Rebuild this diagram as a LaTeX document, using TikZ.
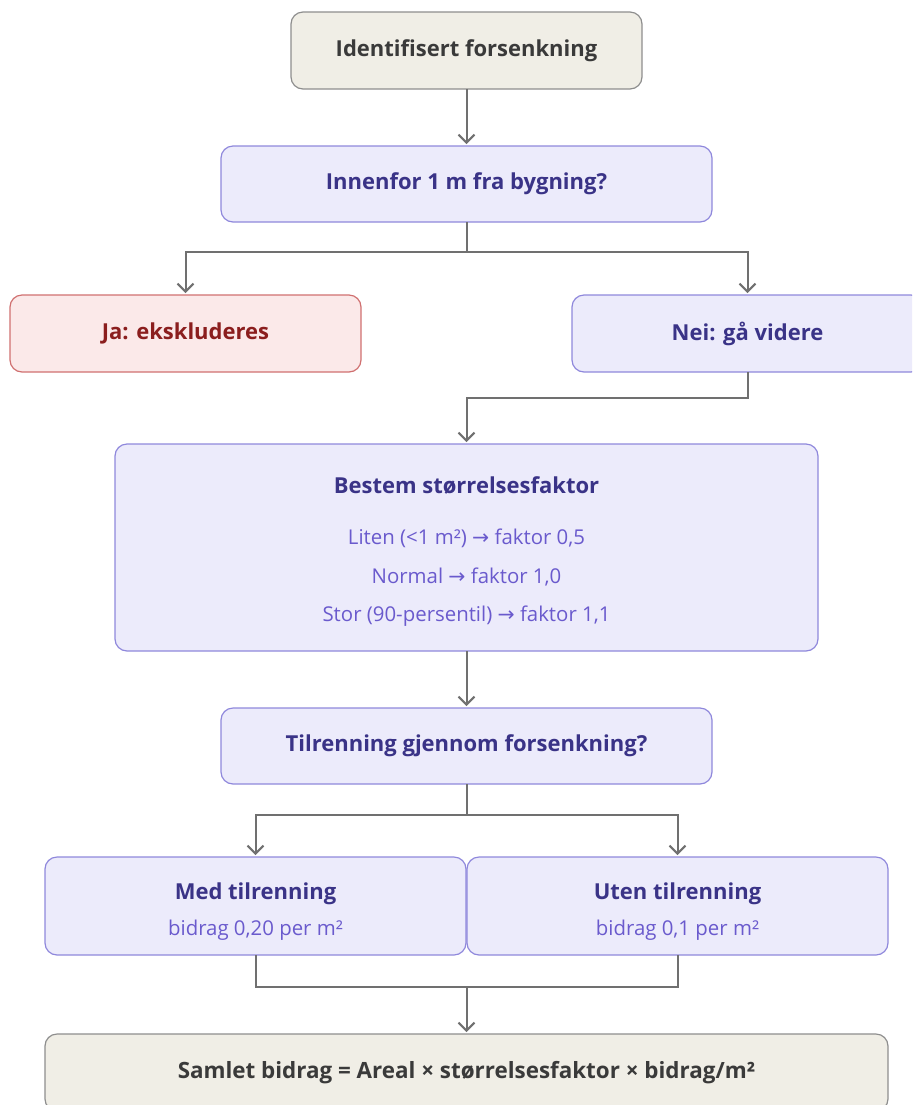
\documentclass[tikz,border=0pt]{standalone}
\usepackage{fontspec}
\setmainfont{Open Sans}
\newfontfamily\arrowfont{DejaVu Sans}
\usepackage{tikz}
\usetikzlibrary{arrows.meta,positioning}
\definecolor{efill}{HTML}{F0EEE6}
\definecolor{eline}{HTML}{8E8E8E}
\definecolor{etext}{HTML}{3A3A3A}
\definecolor{qfill}{HTML}{ECEBFB}
\definecolor{qline}{HTML}{8F88DC}
\definecolor{qtext}{HTML}{3A3387}
\definecolor{qsub}{HTML}{6A5ACD}
\definecolor{rfill}{HTML}{FBE9E9}
\definecolor{rline}{HTML}{D07070}
\definecolor{rtext}{HTML}{8B1E1E}
\definecolor{lgray}{HTML}{707070}
\tikzstyle{block} = [rectangle, draw=qline, fill=qfill, text=qtext, line width=0.6pt,
    font=\bfseries\fontsize{11}{13}\selectfont, align=center, inner sep=0pt, outer sep=0pt,
    rounded corners=6pt, minimum width=245.5pt, minimum height=38pt]
\tikzstyle{endblock} = [block, draw=eline, fill=efill, text=etext, minimum width=175.5pt, minimum height=38.5pt]
\tikzstyle{stopblock} = [endblock, draw=rline, fill=rfill, text=rtext]
\tikzstyle{line} = [draw, lgray, line width=1pt, -{Straight Barb[length=4pt,width=8pt]}, shorten >=1pt]
\newcommand{\rarr}{{\arrowfont\mdseries →}}
\newcommand{\subtxt}[1]{{\mdseries\color{qsub}\fontsize{10.2}{12}\selectfont #1}}

\begin{document}
\begin{tikzpicture}[node distance=28.5pt]
    \useasboundingbox (0,0) rectangle (456pt,-552.5pt);
    \clip (0,0) rectangle (456pt,-552.5pt);
    % Place nodes
    \node [endblock] (ident) at (233.25pt,-25.25pt) {Identifisert forsenkning};
    \node [block, below=of ident] (near) {Innenfor 1 m fra bygning?};
    \node [stopblock, below=36.5pt of near, xshift=-140.5pt] (yes) {Ja: ekskluderes};
    \node [block, minimum width=175.5pt, minimum height=38.5pt, below=36.5pt of near, xshift=140.5pt] (no) {Nei: gå videre};
    \node [block, minimum width=351.5pt, minimum height=103.5pt, below=36pt of no, xshift=-140.5pt] (size) {
    \rule{0pt}{12.5pt}Bestem størrelsesfaktor\\[12.5pt]
    \subtxt{Liten (<1 m²) \rarr{} faktor 0,5}\\[6.2pt]
    \subtxt{Normal \rarr{} faktor 1,0}\\[6.2pt]
    \subtxt{Stor (90-persentil) \rarr{} faktor 1,1}
    };
    \node [block, below=of size] (runoff) {Tilrenning gjennom forsenkning?};
    \node [block, minimum width=210.5pt, minimum height=49pt, below=36.5pt of runoff, xshift=-105.5pt] (with) {\rule{0pt}{14pt}Med tilrenning\\[5pt] \subtxt{bidrag 0,20 per m²}};
    \node [block, minimum width=210.5pt, minimum height=49pt, below=36.5pt of runoff, xshift=105.5pt] (without) {\rule{0pt}{14pt}Uten tilrenning\\[5pt] \subtxt{bidrag 0,1 per m²}};
    \node [endblock, minimum width=421.5pt, font=\bfseries\fontsize{11.2}{13}\selectfont, below=39.5pt of with, xshift=105.5pt] (total) {Samlet bidrag = Areal × størrelsesfaktor × bidrag/m²};
    % Draw edges
    \path [line] (ident) -- (near);
    \path [line] (near.south) -- ++(0,-15pt) -| (yes.north);
    \path [line] (near.south) -- ++(0,-15pt) -| (no.north);
    \path [line] (no.south) -- ++(0,-13pt) -| (size.north);
    \path [line] (size) -- (runoff);
    \path [line] (runoff.south) -- ++(0,-15.5pt) -| (with.north);
    \path [line] (runoff.south) -- ++(0,-15.5pt) -| (without.north);
    \coordinate [below=16pt of with.south] (merge);
    \draw [lgray, line width=1pt] (with.south) -- (merge) -| (without.south);
    \path [line] (merge -| total.north) -- (total.north);

\end{tikzpicture}
\end{document}
